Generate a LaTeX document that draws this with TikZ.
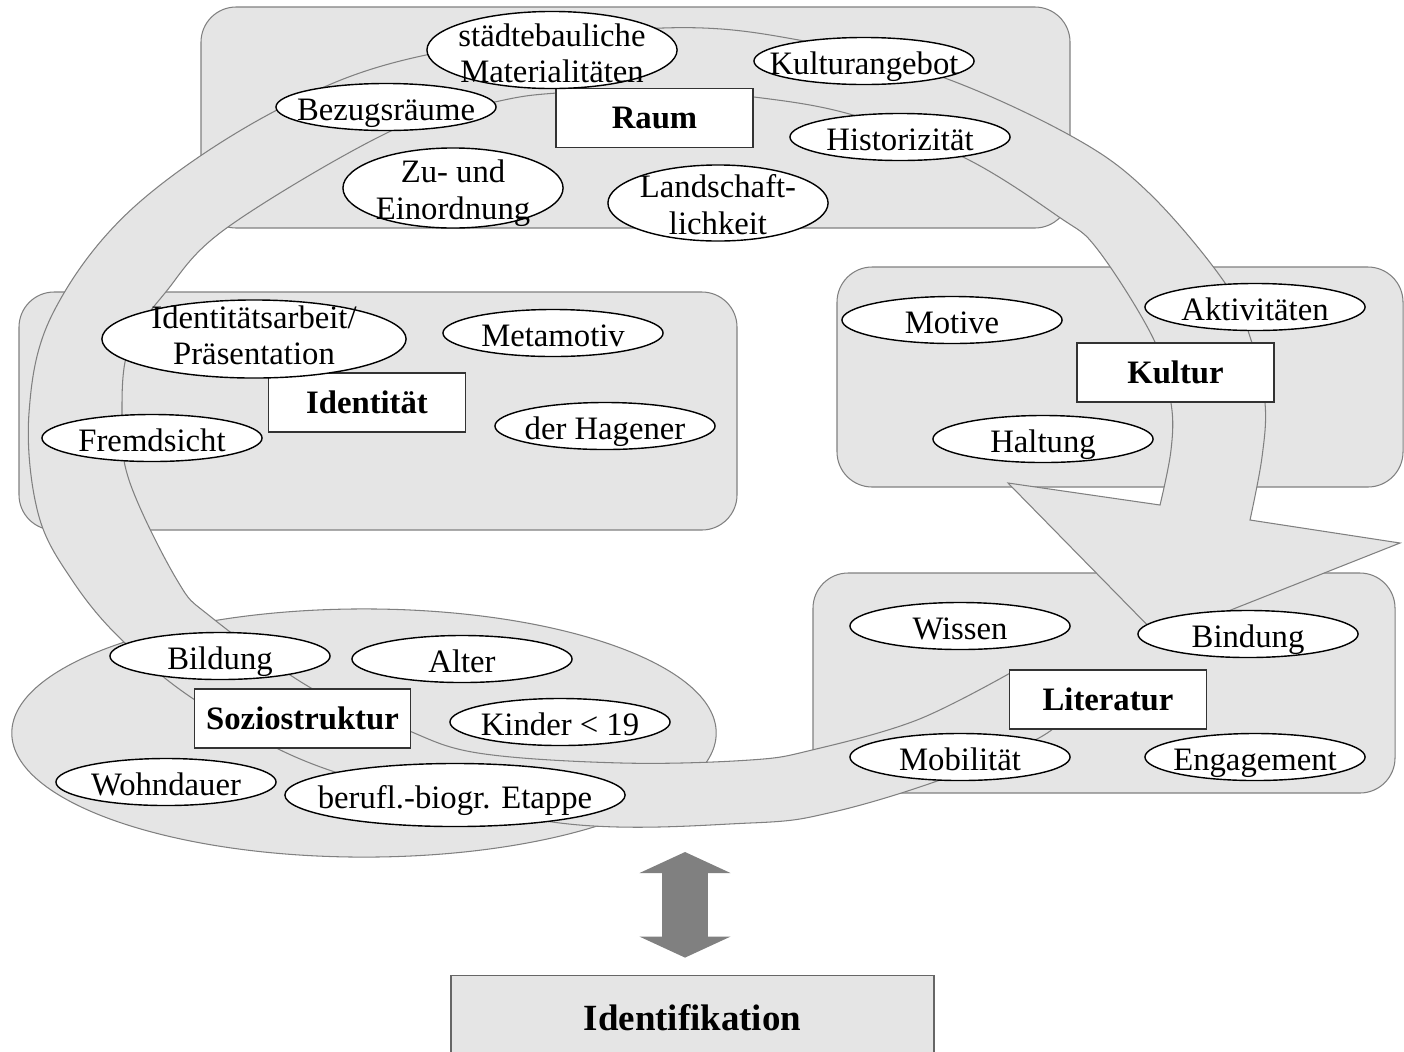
\documentclass[tikz,border=0pt]{standalone}
\usepackage{fontspec}
\setmainfont{Liberation Serif}
\usetikzlibrary{arrows.meta,shapes.geometric}

\begin{document}
\begin{tikzpicture}[
      x=0.01cm, y=-0.01cm,
      every node/.style={font=\fontsize{9.3}{10.4}\selectfont},
      cluster/.style={draw=gray, fill=gray!20, line width=0.3pt, rounded corners=10pt},
      band/.style={draw=gray, fill=gray!20, line width=0.3pt, line join=miter},
      topic/.style={rectangle, draw=black!80, fill=white, line width=0.4pt, minimum width=1.97cm, minimum height=0.59cm, font=\fontsize{9.3}{10.4}\selectfont\bfseries},
      factor/.style={ellipse, draw=black, fill=white, line width=0.4pt, inner sep=0pt, minimum width=2.2cm, minimum height=0.47cm},
      txt/.style={align=center, inner sep=0pt, anchor=center},
      line/.style={txt, text height=0.77em, text depth=0pt},
      link/.style={gray, line width=0.46cm, shorten >=0.17cm, {Triangle[length=0.21cm, width=0.91cm, line width=0pt]}-{Triangle[length=0.21cm, width=0.91cm, line width=0pt]}}
  ]
    \useasboundingbox (0,0) rectangle (1404,1051);

    \draw[cluster] (201,7) rectangle (1070,228);
    \draw[cluster] (19,292) rectangle (737,530);
    \draw[cluster] (837,267) rectangle (1403,487);
    \draw[cluster] (813,573) rectangle (1395,793);
    \draw[cluster] (364,733) ellipse [x radius=3.52cm, y radius=1.24cm];

    \draw[band] plot[smooth, tension=0.6] coordinates {(1062,720) (1035,740) (940,780) (833,812) (750,823) (560,823) (335,772) (206,707) (124,642) (72,580) (38,513) (29,413) (53,313) (134,207) (277,110) (426,55) (663,28) (810,42) (942,77) (1073,137) (1149,193) (1225,283) (1252,343) (1265,403) (1262,457) (1250,520)}
      -- (1400,543) -- (1160,638) -- (1008,483)
      -- plot[smooth, tension=0.6] coordinates {(1160,505) (1171,450) (1171,403) (1154,340) (1098,250) (1059,217) (965,158) (853,115) (754,97) (655,90) (557,93) (495,102) (393,130) (228,227) (165,293) (129,347) (122,413) (129,480) (177,580) (211,617) (311,688) (402,728) (478,753) (622,763) (750,760) (812,750) (917,720) (1012,672)}
      -- cycle;

    \node[topic] (raum) at (654.5,118) {Raum};
    \node[topic] (identitaet) at (367,402.5) {Identität};
    \node[topic] (kultur) at (1175.5,372.5) {Kultur};
    \node[topic] (literatur) at (1108,699.5) {Literatur};
    \node[topic] (sozio) at (302.5,718.5) {Soziostruktur};

    \foreach \nm/\px/\py/\t in {bezug/386/107/Bezugsräume, angebot/864/61/Kulturangebot, histor/900/137/Historizität,
        metamotiv/553/333/Metamotiv, fremd/152/438/Fremdsicht, hagener/605/426/der Hagener,
        motive/952/320/Motive, aktiv/1255/307/Aktivitäten, haltung/1043/439/Haltung,
        wissen/960/626/Wissen, bindung/1248/634/Bindung, mobil/960/757/Mobilität, engage/1255/757/Engagement,
        bildung/220/656/Bildung, alter/462/659/Alter, kinder/560/722/Kinder < 19, wohn/166/782/Wohndauer} {
      \node[factor, label={[line]center:\t}] (\nm) at (\px,\py) {};
    }
    \node[factor, minimum width=2.5cm, minimum height=0.77cm, label={[txt, yshift=-1pt]center:städtebauliche\\Materialitäten}] (material) at (552,50) {};
    \node[factor, minimum height=0.8cm, label={[txt, yshift=-1.5pt]center:Zu- und\\Einordnung}] (einordnung) at (453,188) {};
    \node[factor, minimum height=0.76cm, label={[txt, yshift=-0.5pt]center:Landschaft-\\lichkeit}] (landschaft) at (718,203) {};
    \node[factor, minimum width=3.04cm, minimum height=0.78cm, label={[txt, yshift=1pt]center:Identitätsarbeit/\\Präsentation}] (praesent) at (254,339) {};
    \node[factor, minimum width=3.4cm, minimum height=0.63cm, label={[line]center:berufl.-biogr. Etappe}] (etappe) at (455,795) {};

    \node[rectangle, draw=black!60, fill=gray!20, line width=0.5pt, minimum width=4.82cm, minimum height=0.84cm, font=\fontsize{10.5}{12}\selectfont\bfseries] (ident) at (692.5,1017.5) {Identifikation};
    \coordinate (linktop) at (685,852);
    \draw[link] (linktop) -- (linktop |- ident.north);
  \end{tikzpicture}
\end{document}
